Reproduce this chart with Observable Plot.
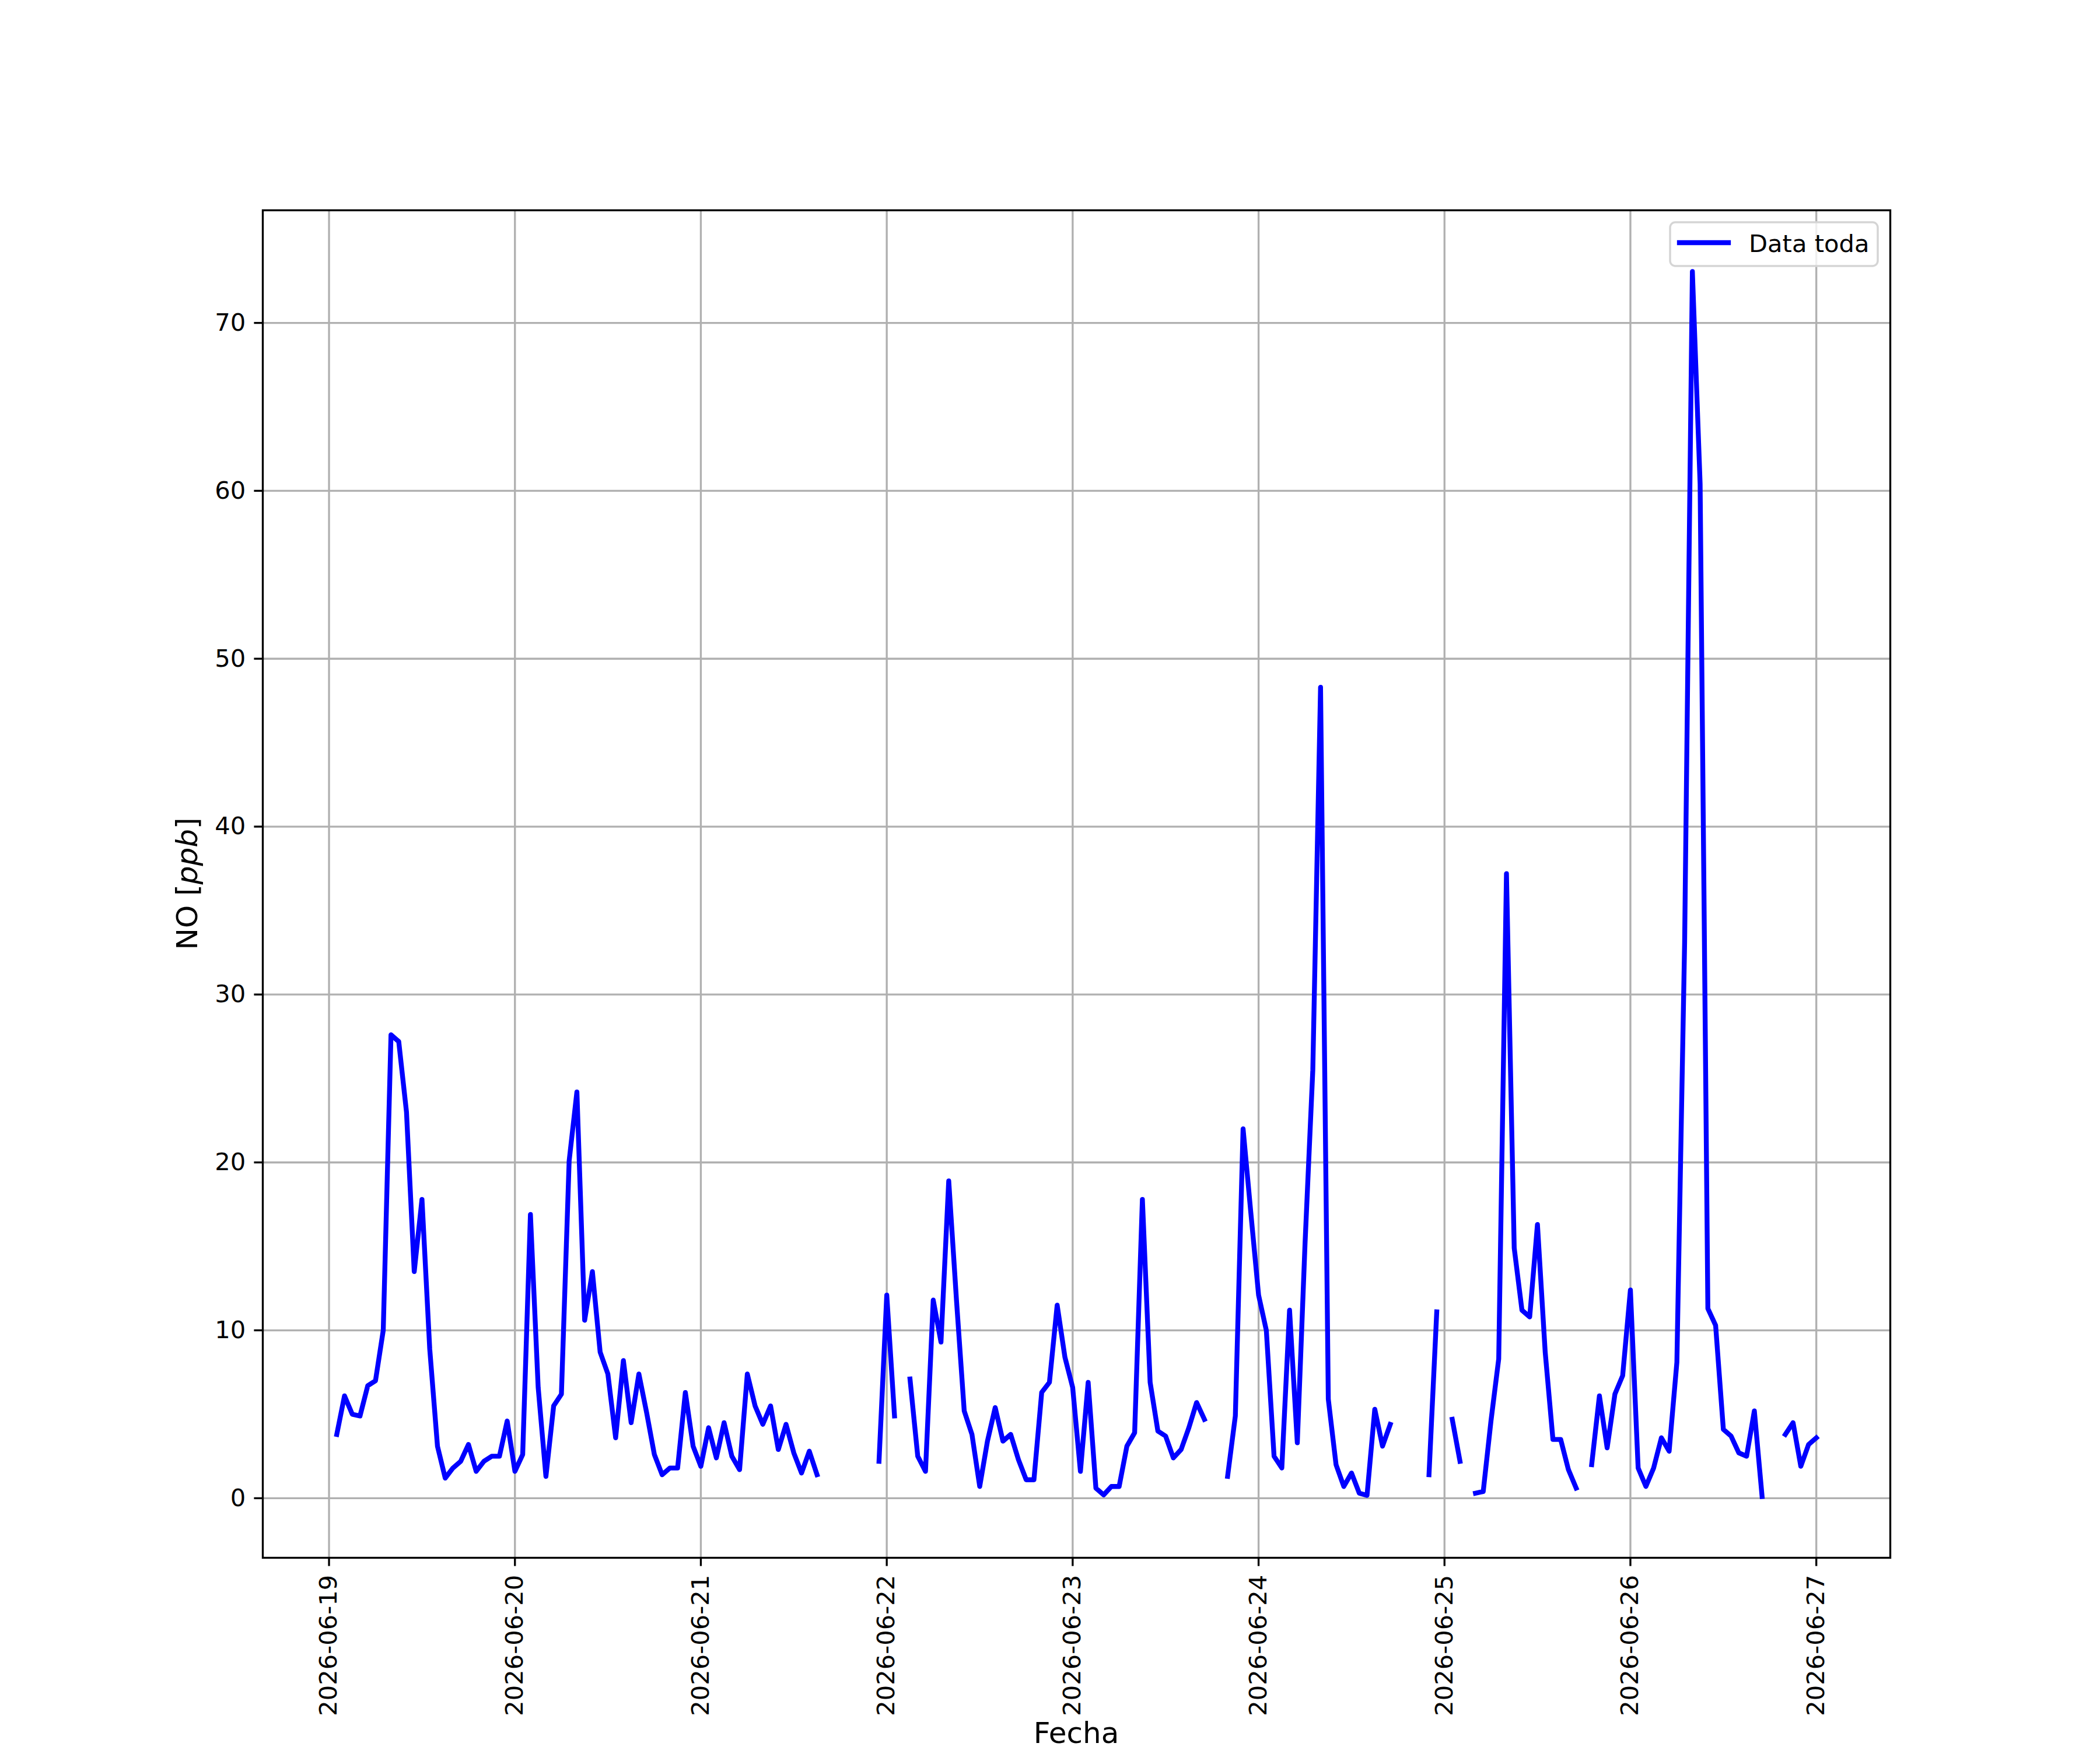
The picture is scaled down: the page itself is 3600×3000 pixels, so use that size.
<!DOCTYPE html>
<html>
<head>
<meta charset="utf-8">
<script src="https://cdn.jsdelivr.net/npm/d3@7"></script>
<script src="https://cdn.jsdelivr.net/npm/@observablehq/plot@0.6"></script>
<style>
  html, body { margin: 0; padding: 0; background: white; }
  #chart { width: 3600px; height: 3000px; }
</style>
</head>
<body>
<div id="chart"></div>
<script>
// Days (UTC) and hourly NO values [ppb]; null = missing hour
const days = ["2026-06-19","2026-06-20","2026-06-21","2026-06-22","2026-06-23","2026-06-24","2026-06-25","2026-06-26","2026-06-27"];
const no19 = [null,3.8,6.1,5.0,4.9,6.7,7.0,10.0,27.6,27.2,23.0,13.5,17.8,8.9,3.1,1.2,1.8,2.2,3.2,1.6,2.2,2.5,2.5,4.6];
const no20 = [1.6,2.6,16.9,6.6,1.3,5.5,6.2,20.1,24.2,10.6,13.5,8.7,7.4,3.6,8.2,4.5,7.4,5.1,2.6,1.4,1.8,1.8,6.3,3.1];
const no21 = [1.9,4.2,2.4,4.5,2.5,1.7,7.4,5.5,4.4,5.5,2.9,4.4,2.7,1.5,2.8,1.4,null,null,null,null,null,null,null,2.2];
const no22 = [12.1,4.9,null,7.1,2.5,1.6,11.8,9.3,18.9,11.8,5.2,3.8,0.7,3.4,5.4,3.4,3.8,2.3,1.1,1.1,6.3,6.9,11.5,8.4];
const no23 = [6.6,1.6,6.9,0.6,0.2,0.7,0.7,3.1,3.9,17.8,6.9,4.0,3.7,2.4,2.9,4.2,5.7,4.7,null,null,1.3,4.9,22.0,17.0];
const no24 = [12.1,10.0,2.5,1.8,11.2,3.3,15.2,25.5,48.3,5.9,2.0,0.7,1.5,0.3,0.17,5.3,3.1,4.4,null,null,null,null,1.4,11.1];
const no25 = [null,4.7,2.2,null,0.3,0.4,4.6,8.3,37.2,14.9,11.2,10.8,16.3,8.7,3.5,3.5,1.7,0.6,null,2.0,6.1,3.0,6.2,7.3];
const no26 = [12.4,1.8,0.7,1.8,3.6,2.8,8.1,33.1,73.06,60.4,11.3,10.3,4.1,3.7,2.7,2.5,5.2,0.1,null,null,3.8,4.5,1.9,3.2];
const no27 = [3.6];
const series = [no19,no20,no21,no22,no23,no24,no25,no26,no27];
const yTicks = [0,10,20,30,40,50,60,70];
const legendLabel = "Data toda";
const xLabel = "Fecha";

const data = series.flatMap((vals, i) =>
  vals.map((v, h) => ({date: new Date(Date.parse(days[i] + "T00:00:00Z") + h * 3600e3), value: v}))
);
const defined = data.filter(d => d.value != null);

// matplotlib-like 5% autoscale margins
const [x0, x1] = d3.extent(defined, d => +d.date);
const [y0, y1] = d3.extent(defined, d => d.value);
const mx = (x1 - x0) * 0.05, my = (y1 - y0) * 0.05;
const dayTicks = days.map(d => new Date(d + "T00:00:00Z"));

const W = 3600, H = 3000;
const mL = 450, mR = 360, mT = 360, mB = 330;
const grid = "#b0b0b0";
const lw = 3.33;

const plot = Plot.plot({
  width: W, height: H,
  marginLeft: mL, marginRight: mR, marginTop: mT, marginBottom: mB,
  style: {fontFamily: "DejaVu Sans", fontSize: "41.67px", background: "white", color: "black"},
  x: {type: "utc", domain: [new Date(x0 - mx), new Date(x1 + mx)]},
  y: {domain: [y0 - my, y1 + my]},
  marks: [
    Plot.gridX(dayTicks, {stroke: grid, strokeOpacity: 1, strokeWidth: lw}),
    Plot.gridY(yTicks, {stroke: grid, strokeOpacity: 1, strokeWidth: lw}),
    Plot.line(data, {x: "date", y: "value", stroke: "#0000ff", strokeWidth: 8.33,
      strokeLinecap: "square", strokeLinejoin: "round"}),
    Plot.frame({stroke: "black", strokeWidth: lw}),
    Plot.axisY(yTicks, {tickSize: 14.6, tickPadding: 14.6, strokeWidth: lw, label: null,
      tickFormat: d => String(d), fontSize: 41.67}),
    Plot.axisX(dayTicks, {tickSize: 14.6, tickPadding: 14.6, strokeWidth: lw, label: null,
      tickFormat: d3.utcFormat("%Y-%m-%d"), tickRotate: -90, fontSize: 41.67})
  ]
});

const svg = d3.select(plot);
// y label
const yl = svg.append("text")
  .attr("transform", `translate(338, ${(mT + H - mB) / 2}) rotate(-90)`)
  .attr("text-anchor", "middle")
  .attr("font-family", "DejaVu Sans")
  .attr("font-size", 50)
  .attr("fill", "black");
yl.append("tspan").text("NO [");
yl.append("tspan").attr("font-style", "italic").text("ppb");
yl.append("tspan").text("]");
// x label
svg.append("text")
  .attr("x", (mL + W - mR) / 2).attr("y", 2988)
  .attr("text-anchor", "middle")
  .attr("font-family", "DejaVu Sans")
  .attr("font-size", 50)
  .attr("fill", "black")
  .text(xLabel);
// legend
const lg = svg.append("g");
lg.append("rect")
  .attr("x", 2863).attr("y", 381).attr("width", 356).attr("height", 75)
  .attr("rx", 9).attr("ry", 9)
  .attr("fill", "white").attr("fill-opacity", 0.8)
  .attr("stroke", "#d5d5d5").attr("stroke-width", 3.5);
lg.append("line")
  .attr("x1", 2879).attr("x2", 2963).attr("y1", 416).attr("y2", 416)
  .attr("stroke", "#0000ff").attr("stroke-width", 8.33).attr("stroke-linecap", "square");
lg.append("text")
  .attr("x", 2998).attr("y", 431.5)
  .attr("text-anchor", "start")
  .attr("font-family", "DejaVu Sans").attr("font-size", 41.67).attr("fill", "black")
  .text(legendLabel);

document.getElementById("chart").appendChild(plot);
</script>
</body>
</html>
